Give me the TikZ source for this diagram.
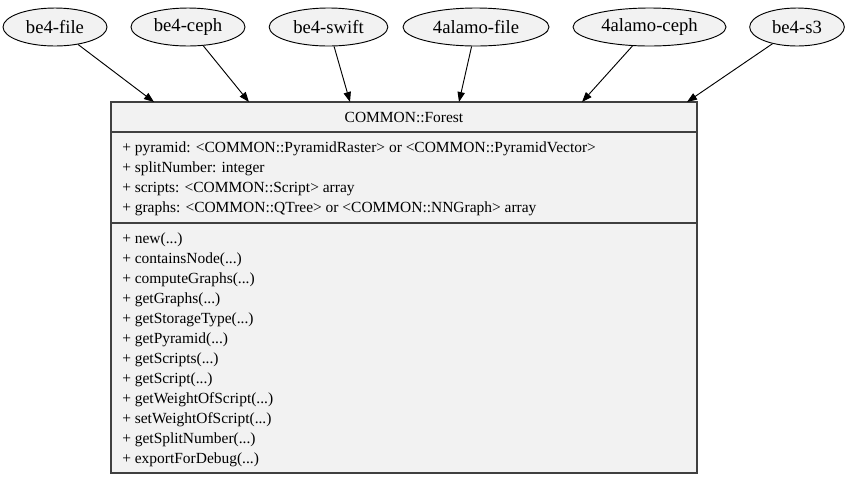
\documentclass[tikz,border=0pt]{standalone}
\usepackage{fontspec}
\setmainfont{Liberation Serif}
\usetikzlibrary{positioning, arrows.meta, shapes.geometric}

\begin{document}
\begin{tikzpicture}[x=0.75pt, y=-0.75pt,
  backend/.style={ellipse, draw=black, fill=gray!10, inner sep=0pt, line width=0.7pt,
                  minimum height=28.5pt, font=\fontsize{14}{16}\selectfont},
  umlbox/.style={draw=black!75, fill=gray!10, inner sep=0pt, line width=0.9pt},
  member/.style={anchor=base west, inner sep=0pt, font=\fontsize{11.6}{13}\selectfont},
  sep/.style={draw=black!75, line width=0.9pt},
  arr/.style={-{Triangle[length=7.5pt, width=5.5pt]}, draw=black, line width=0.7pt}
]
  \useasboundingbox (0,0) rectangle (846,480);

  % Backend nodes
  \node[backend, minimum width=78pt]     (bfile)   at (55,27)    {be4-file};
  \node[backend, minimum width=85.5pt]   (bceph)   at (188,27)   {be4-ceph};
  \node[backend, minimum width=89pt]     (bswift)  at (328.5,27) {be4-swift};
  \node[backend, minimum width=109.5pt]  (afile)   at (476,27)   {4alamo-file};
  \node[backend, minimum width=114.75pt] (aceph)   at (649.5,27) {4alamo-ceph};
  \node[backend, minimum width=71pt]     (bsthree) at (797,27)   {be4-s3};

  % Class box
  \node[umlbox, minimum width=439.5pt, minimum height=278.25pt] (forest) at (404,287.5) {};
  \draw[sep] (forest.west |- 0,132) -- (forest.east |- 0,132);
  \draw[sep] (forest.west |- 0,223) -- (forest.east |- 0,223);
  \node[member, anchor=base] (title) at (404,122) {COMMON::Forest};

  % Attributes
  \foreach \a [count=\i] in {%
      {+ pyramid: <COMMON::PyramidRaster> or <COMMON::PyramidVector>},
      {+ splitNumber: integer},
      {+ scripts: <COMMON::Script> array},
      {+ graphs: <COMMON::QTree> or <COMMON::NNGraph> array}}
    \node[member] (attr\i) at (122,132+20*\i) {\a};

  % Methods
  \foreach \m [count=\i] in {new, containsNode, computeGraphs, getGraphs,
      getStorageType, getPyramid, getScripts, getScript, getWeightOfScript,
      setWeightOfScript, getSplitNumber, exportForDebug}
    \node[member] (meth\i) at (122,223+20*\i) {+ \m(...)};

  % Arrow ends on the box
  \coordinate (t1) at (154,102);
  \coordinate (t2) at (249,102);
  \coordinate (t3) at (350,102);
  \coordinate (t4) at (459,102);
  \coordinate (t5) at (582,102);
  \coordinate (t6) at (687,102);

  % Inheritance arrows
  \draw[arr] (bfile) -- (t1);
  \draw[arr] (bceph) -- (t2);
  \draw[arr] (bswift) -- (t3);
  \draw[arr] (afile) -- (t4);
  \draw[arr] (aceph) -- (t5);
  \draw[arr] (bsthree) -- (t6);
\end{tikzpicture}
\end{document}
